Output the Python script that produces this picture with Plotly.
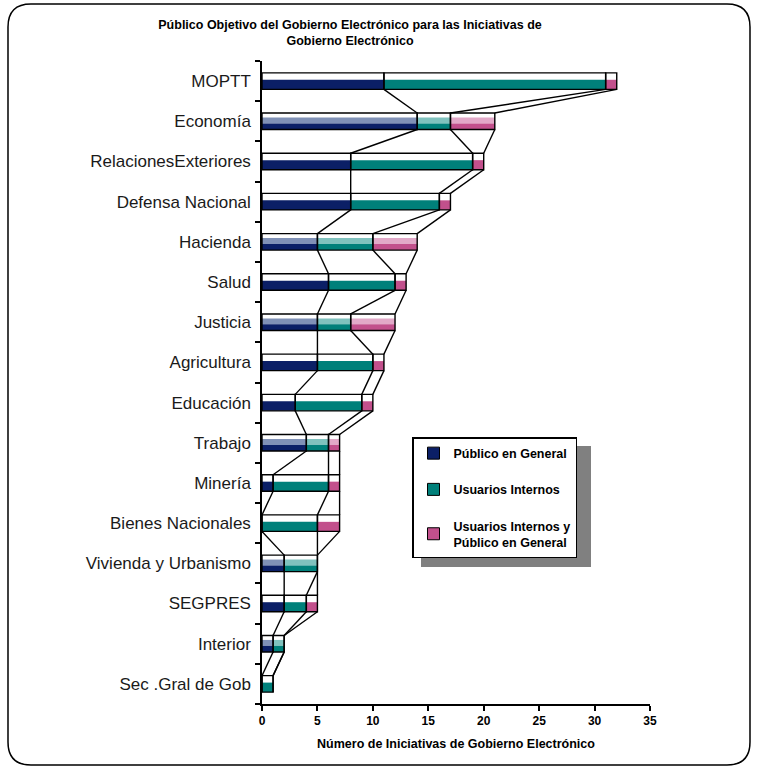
import plotly.graph_objects as go

# ---------------- data ----------------
categories = ["MOPTT", "Economía", "RelacionesExteriores", "Defensa Nacional", "Hacienda",
              "Salud", "Justicia", "Agricultura", "Educación", "Trabajo", "Minería",
              "Bienes Nacionales", "Vivienda y Urbanismo", "SEGPRES", "Interior",
              "Sec .Gral de Gob"]
publico_general = [11, 14, 8, 8, 5, 6, 5, 5, 3, 4, 1, 0, 2, 2, 1, 0]
usuarios_internos = [20, 3, 11, 8, 5, 6, 3, 5, 6, 2, 5, 5, 3, 2, 1, 1]
internos_y_publico = [1, 4, 1, 1, 4, 1, 4, 1, 1, 1, 1, 2, 0, 1, 0, 0]
series_names = ["Público en General", "Usuarios Internos",
                "Usuarios Internos y<br>Público en General"]
x_ticks = [0, 5, 10, 15, 20, 25, 30, 35]

# ---------------- style ----------------
dark_colors = ["#0b1f66", "#00807a", "#c2508c"]
light_colors = ["#8091b6", "#80c2be", "#e2a9c8"]
shaded_categories = ["Economía", "Hacienda", "Justicia", "Trabajo",
                     "Vivienda y Urbanismo", "Interior"]

W = 0.41          # full box thickness (category units)
FIG_W, FIG_H = 757, 769
ML, MR, MT, MB = 262, 107, 61, 65
PW, PH = FIG_W - ML - MR, FIG_H - MT - MB

def px(xp):
    return (xp - ML) / PW

def py(yp):
    return 1 - (yp - MT) / PH

series = [publico_general, usuarios_internos, internos_y_publico]
n = len(categories)
ypos = list(range(n))
bases = []
run = [0] * n
for s in series:
    bases.append(run[:])
    run = [a + b for a, b in zip(run, s)]

fig = go.Figure()

# white boxes (background)
for k, s in enumerate(series):
    fig.add_trace(go.Bar(orientation="h", y=ypos, x=s, base=bases[k], width=W, offset=-W / 2,
                         marker=dict(color="white", line=dict(width=0)),
                         showlegend=False, hoverinfo="skip"))

shaded = [c in shaded_categories for c in categories]
for k, s in enumerate(series):
    xs = [v if not sh else 0 for v, sh in zip(s, shaded)]
    fig.add_trace(go.Bar(orientation="h", y=ypos, x=xs, base=bases[k], width=W * 0.58,
                         offset=W / 2 - W * 0.58,
                         marker=dict(color=dark_colors[k], line=dict(width=0)),
                         showlegend=False, hoverinfo="skip"))
    xs2 = [v if sh else 0 for v, sh in zip(s, shaded)]
    fig.add_trace(go.Bar(orientation="h", y=ypos, x=xs2, base=bases[k], width=W * 0.36,
                         offset=W / 2 - W * 0.73,
                         marker=dict(color=light_colors[k], line=dict(width=0)),
                         showlegend=False, hoverinfo="skip"))
    fig.add_trace(go.Bar(orientation="h", y=ypos, x=xs2, base=bases[k], width=W * 0.37,
                         offset=W / 2 - W * 0.37,
                         marker=dict(color=dark_colors[k], line=dict(width=0)),
                         showlegend=False, hoverinfo="skip"))

# outlines on top
for k, s in enumerate(series):
    fig.add_trace(go.Bar(orientation="h", y=ypos, x=s, base=bases[k], width=W, offset=-W / 2,
                         marker=dict(color="rgba(0,0,0,0)", line=dict(color="black", width=1.4)),
                         showlegend=False, hoverinfo="skip"))

# series lines
cums = []
run = [0] * n
for s in series:
    run = [a + b for a, b in zip(run, s)]
    cums.append(run[:])
lx, ly = [], []
for c in cums:
    for i in range(n - 1):
        lx += [c[i], c[i + 1], None]
        ly += [i + W / 2, i + 1 - W / 2, None]
fig.add_trace(go.Scatter(x=lx, y=ly, mode="lines", line=dict(color="black", width=1.4),
                         showlegend=False, hoverinfo="skip"))

# legend entries
for k, name in enumerate(series_names):
    fig.add_trace(go.Bar(orientation="h", x=[None], y=[None], name=name,
                         marker=dict(color=dark_colors[k], line=dict(color="black", width=1)),
                         legendgroup=str(k)))

# legend shadow
lg_l, lg_t, lg_r, lg_b = 412, 437, 582, 558
fig.add_shape(type="rect", xref="paper", yref="paper",
              x0=px(lg_l + 9), x1=px(lg_r + 9), y0=py(lg_b + 9), y1=py(lg_t + 9),
              fillcolor="#808080", line=dict(width=0), layer="below")

# rounded outer frame
x0, x1, y0, y1, r = 8, 750, 4, 765, 23
def P(a, b):
    return f"{px(a):.5f},{py(b):.5f}"
path = (f"M {P(x0 + r, y0)} L {P(x1 - r, y0)} Q {P(x1, y0)} {P(x1, y0 + r)} "
        f"L {P(x1, y1 - r)} Q {P(x1, y1)} {P(x1 - r, y1)} L {P(x0 + r, y1)} "
        f"Q {P(x0, y1)} {P(x0, y1 - r)} L {P(x0, y0 + r)} Q {P(x0, y0)} {P(x0 + r, y0)} Z")
fig.add_shape(type="path", xref="paper", yref="paper", path=path,
              line=dict(color="black", width=1.5), fillcolor="rgba(0,0,0,0)")

fig.update_layout(
    width=FIG_W, height=FIG_H,
    margin=dict(l=ML, r=MR, t=MT, b=MB),
    paper_bgcolor="white", plot_bgcolor="white",
    barmode="overlay",
    font=dict(family="Liberation Sans, Arial, sans-serif", color="black"),
    title=dict(text="<b>Público Objetivo del Gobierno Electrónico para las Iniciativas de<br>Gobierno Electrónico</b>",
               x=350 / FIG_W, xanchor="center", y=1 - 29 / FIG_H, yanchor="top",
               font=dict(size=12.5, color="black")),
    legend=dict(x=px(lg_l), y=py(lg_t), xanchor="left", yanchor="top",
                bgcolor="white", bordercolor="black", borderwidth=1.5,
                font=dict(size=12.5, color="black", weight="bold"),
                tracegroupgap=17, traceorder="grouped"),
    xaxis=dict(range=[0, 35], tickvals=x_ticks, ticks="outside", ticklen=5,
               tickcolor="black", tickwidth=1.5, showline=True, linecolor="black",
               linewidth=1.5, showgrid=False, zeroline=False,
               tickfont=dict(size=12, weight="bold"),
               title=dict(text="<b>Número de Iniciativas de Gobierno Electrónico</b>",
                          font=dict(size=12.5), standoff=12)),
    yaxis=dict(range=[n - 0.5, -0.5], tickvals=ypos, ticktext=categories,
               ticks="", showline=True, linecolor="black", linewidth=1.5,
               showgrid=False, zeroline=False, ticklabelstandoff=6,
               tickfont=dict(size=17, color="#1a1a1a"),
               minor=dict(tickmode="linear", tick0=0.5, dtick=1, ticks="outside",
                          ticklen=5, tickcolor="black", tickwidth=1.5, showgrid=False)),
)

fig.write_html("out.html", config={"displayModeBar": False},
               post_script="document.body.style.margin='0';")
